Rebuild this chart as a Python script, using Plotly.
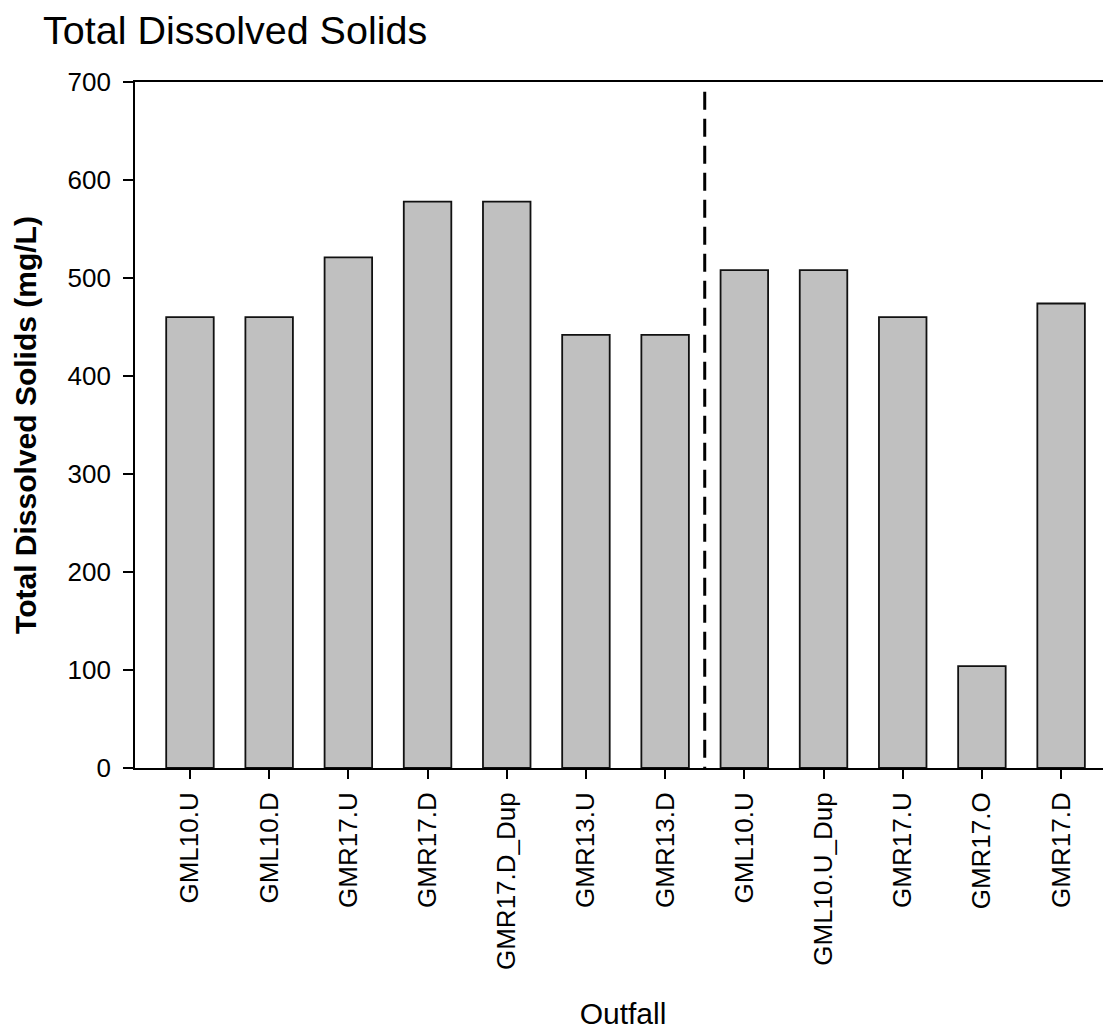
import plotly.graph_objects as go

outfalls = ["GML10.U", "GML10.D", "GMR17.U", "GMR17.D", "GMR17.D_Dup", "GMR13.U",
            "GMR13.D", "GML10.U", "GML10.U_Dup", "GMR17.U", "GMR17.O", "GMR17.D"]
tds_values = [460, 460, 521, 578, 578, 442, 442, 508, 508, 460, 104, 474]
y_ticks = [0, 100, 200, 300, 400, 500, 600, 700]

positions = list(range(len(outfalls)))
FONT = "Liberation Sans, Arial, sans-serif"

# page body has an 8px margin, so the figure is sized to end at the window edge
W, H = 1103, 1022

fig = go.Figure()
fig.add_trace(go.Bar(
    x=positions, y=tds_values, width=0.6,
    marker=dict(color="#c0c0c0", line=dict(color="#111111", width=1.8)),
    showlegend=False, hoverinfo="x+y",
))

# dashed separator between the two sampling groups
fig.add_shape(type="line", xref="x", yref="y", x0=6.5, x1=6.5, y0=690, y1=0,
              line=dict(color="black", width=3, dash="18px,9px"))

fig.update_layout(
    width=W, height=H,
    margin=dict(l=127, r=0, t=74, b=262, autoexpand=False),
    paper_bgcolor="white", plot_bgcolor="white",
    font=dict(family=FONT, color="black"),
    title=dict(text="Total Dissolved Solids", x=35/W, xanchor="left",
               xref="container", yref="container", y=1 - 8/H, yanchor="top",
               font=dict(size=39.5, family=FONT, color="black")),
)

fig.update_xaxes(
    range=[-0.694, 11.63],
    tickmode="array", tickvals=positions, ticktext=outfalls, tickangle=-90,
    ticks="outside", ticklen=9, tickwidth=1.6, tickcolor="black",
    tickfont=dict(size=26, family=FONT, color="black"), ticklabelstandoff=3,
    showline=True, linecolor="black", linewidth=1.8, mirror=True,
    showgrid=False, zeroline=False, automargin=False,
    title=dict(text="Outfall", font=dict(size=30, family=FONT, color="black"), standoff=40),
)
fig.update_yaxes(
    range=[0, 700], tickmode="array", tickvals=y_ticks,
    ticks="outside", ticklen=10, tickwidth=1.6, tickcolor="black",
    tickfont=dict(size=26, family=FONT, color="black"), ticklabelstandoff=7,
    showline=True, linecolor="black", linewidth=1.8,
    showgrid=False, zeroline=False, automargin=False,
    title=dict(text="<b>Total Dissolved Solids (mg/L)</b>",
               font=dict(size=30, family=FONT, color="black"), standoff=22),
)

fig.write_html("out.html")
